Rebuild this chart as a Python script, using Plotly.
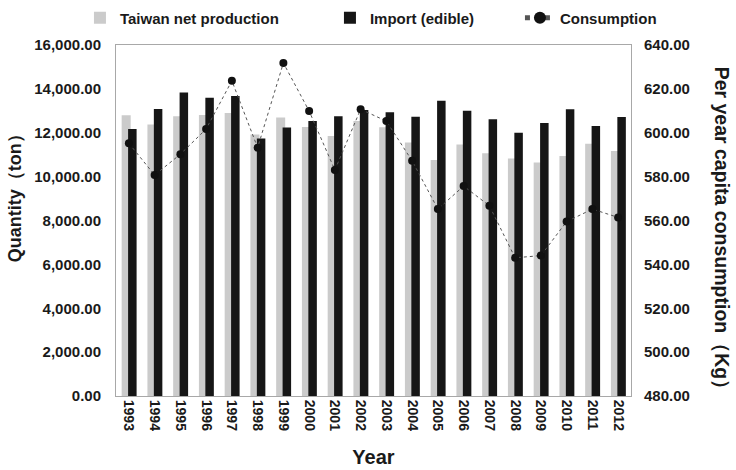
import plotly.graph_objects as go

years = [str(y) for y in range(1993, 2013)]
taiwan_net_production = [12800, 12380, 12750, 12810, 12900, 11920, 12700, 12260, 11850, 12530,
                         12250, 11550, 10760, 11470, 11060, 10830, 10640, 10940, 11500, 11170]
import_edible = [12170, 13080, 13840, 13600, 13670, 11740, 12240, 12530, 12750, 13040,
                 12930, 12730, 13460, 13000, 12610, 12000, 12440, 13070, 12310, 12720]
consumption = [595.2, 580.7, 590.2, 601.7, 623.7, 593.2, 631.8, 609.9, 583.0, 610.7,
               605.3, 587.2, 565.2, 575.7, 566.7, 543.0, 544.0, 559.5, 565.2, 561.4]

FONT = "Liberation Sans, Arial, sans-serif"
TXT = "#1a1a1a"

fig = go.Figure()
fig.add_trace(go.Bar(
    x=years, y=taiwan_net_production, name="Taiwan net production",
    marker=dict(color="#cbcbcb", line=dict(width=0)),
    offset=-0.28, width=0.35, legendwidth=205,
))
fig.add_trace(go.Bar(
    x=years, y=import_edible, name="Import (edible)",
    marker=dict(color="#161616", line=dict(width=0)),
    offset=-0.03, width=0.33, legendwidth=145,
))
fig.add_trace(go.Scatter(
    x=years, y=consumption, name="Consumption", yaxis="y2",
    mode="lines+markers",
    line=dict(color="#555555", width=1, dash="dot"),
    marker=dict(color="#111111", size=8),
))

fig.update_layout(
    width=736, height=470,
    margin=dict(l=116, r=105, t=45, b=74, autoexpand=False),
    paper_bgcolor="white", plot_bgcolor="white",
    barmode="overlay",
    font=dict(family=FONT, size=14, color=TXT, weight="bold"),
    showlegend=True,
    legend=dict(
        orientation="h", x=-0.07, xanchor="left", y=1.077, yanchor="middle",
        font=dict(family=FONT, size=15, color=TXT, weight="bold"),
        bgcolor="rgba(0,0,0,0)", itemsizing="constant",
        entrywidthmode="pixels",
    ),
    xaxis=dict(
        type="category", range=[-0.5, 19.5], automargin=False,
        showline=True, linecolor="#a8a8a8", linewidth=1, mirror=True,
        showgrid=False, ticks="", tickangle=90,
        tickfont=dict(family=FONT, size=14, color=TXT, weight="bold"),
        title=dict(text="Year", font=dict(family=FONT, size=20, color=TXT, weight="bold"), standoff=19),
    ),
    yaxis=dict(
        range=[0, 16000], dtick=2000, tickformat=",.2f", automargin=False,
        showline=True, linecolor="#a8a8a8", linewidth=1, mirror=True,
        showgrid=False, zeroline=False, ticks="",
        ticklabelstandoff=11,
        tickfont=dict(family=FONT, size=15, color=TXT, weight="bold"),
    ),
    yaxis2=dict(
        overlaying="y", side="right", range=[480, 640], dtick=20, tickformat=".2f",
        automargin=False,
        showgrid=False, zeroline=False, ticks="", showline=False,
        tickfont=dict(family=FONT, size=15, color=TXT, weight="bold"),
        ticklabelstandoff=12,
    ),
    annotations=[
        dict(
            text="Quantity（ton）", textangle=-90,
            xref="paper", yref="paper", x=-0.196, y=0.575, xanchor="center", yanchor="middle",
            showarrow=False, font=dict(family=FONT, size=18, color=TXT, weight="bold"),
        ),
        dict(
            text="Per year capita consumption（Kg）", textangle=90,
            xref="paper", yref="paper", x=1.177, y=0.465, xanchor="center", yanchor="middle",
            showarrow=False, font=dict(family=FONT, size=19.5, color=TXT, weight="bold"),
        ),
    ],
)

fig.write_html("out.html", config={"displayModeBar": False},
               post_script="document.body.style.margin='0';")
